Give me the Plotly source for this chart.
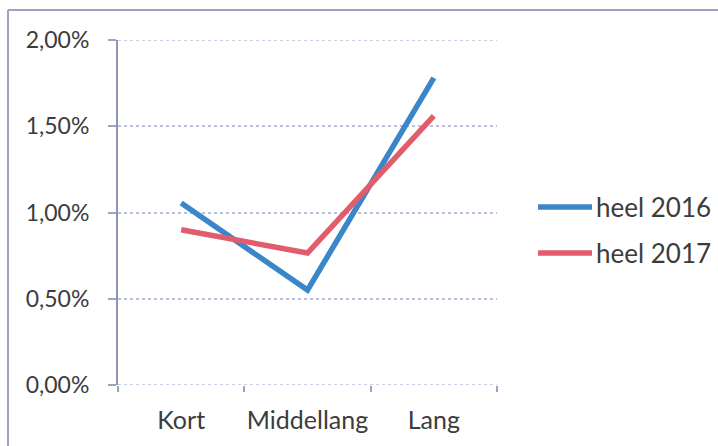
import plotly.graph_objects as go

# Rente per looptijd
categories = ["Kort", "Middellang", "Lang"]
series_names = ["heel 2016", "heel 2017"]
heel_2016 = [0.01055, 0.0055, 0.0178]
heel_2017 = [0.0090, 0.00765, 0.0156]
y_ticks = [0.0, 0.005, 0.01, 0.015, 0.02]
y_tick_labels = ["0,00%", "0,50%", "1,00%", "1,50%", "2,00%"]

colors = ["#3a86c9", "#e25d6c"]
font_family = "Lato, 'Open Sans', sans-serif"
text_color = "#3c3c3c"

fig = go.Figure()
for name, vals, col in zip(series_names, [heel_2016, heel_2017], colors):
    fig.add_trace(go.Scatter(
        x=categories, y=vals, mode="lines", name=name,
        line=dict(color=col, width=5.5), showlegend=False,
    ))

L, R, T, B = 118, 221, 40, 61
W, H = 718, 446
pw, ph = W - L - R, H - T - B

fig.update_layout(
    width=W, height=H,
    margin=dict(l=L, r=R, t=T, b=B),
    paper_bgcolor="white", plot_bgcolor="white",
    font=dict(family=font_family, size=23, color=text_color),
    xaxis=dict(
        type="category", range=[-0.5, 2.5],
        showgrid=False, showline=False, zeroline=False,
        ticks="outside", ticklen=6, tickcolor="#9aa3c0", tickwidth=1.5,
        tickson="boundaries", ticklabelstandoff=18, tickangle=0,
        automargin=False,
        tickfont=dict(size=25, color=text_color),
    ),
    yaxis=dict(
        range=[0, 0.02], tickvals=y_ticks, ticktext=y_tick_labels,
        showgrid=True, gridcolor="#b9c0dc", gridwidth=1.5, griddash="dot",
        zeroline=False, automargin=False,
        showline=True, linecolor="#8d94b6", linewidth=2,
        ticks="outside", ticklen=8, tickcolor="#9aa3c0", tickwidth=1.5,
        ticklabelstandoff=14,
        tickfont=dict(size=23, color=text_color),
    ),
)

# lichte stippellijnen op 0% en 2%
for yv in (y_ticks[0], y_ticks[-1]):
    fig.add_shape(type="line", xref="paper", yref="y", x0=0, x1=1, y0=yv, y1=yv,
                  line=dict(color="#b9c0dc", width=1.5, dash="dot"))

# kader om het diagram (boven en links)
def px_x(x):
    return (x - L) / pw

def px_y(y):
    return (H - B - y) / ph

fig.add_shape(type="line", xref="paper", yref="paper",
              x0=px_x(8), x1=px_x(730), y0=px_y(10), y1=px_y(10),
              line=dict(color="#9ca3bf", width=2))
fig.add_shape(type="line", xref="paper", yref="paper",
              x0=px_x(8), x1=px_x(8), y0=px_y(10), y1=px_y(450),
              line=dict(color="#9ca3bf", width=2))

# legenda
legend_y = [207, 253]
for name, col, ly in zip(series_names, colors, legend_y):
    fig.add_shape(type="line", xref="paper", yref="paper",
                  x0=px_x(538), x1=px_x(592), y0=px_y(ly), y1=px_y(ly),
                  line=dict(color=col, width=5.5))
    fig.add_annotation(xref="paper", yref="paper", x=px_x(594), y=px_y(ly),
                       text=name, showarrow=False, xanchor="left", yanchor="middle",
                       font=dict(size=26, color=text_color, family=font_family))

fig.write_html("out.html")
